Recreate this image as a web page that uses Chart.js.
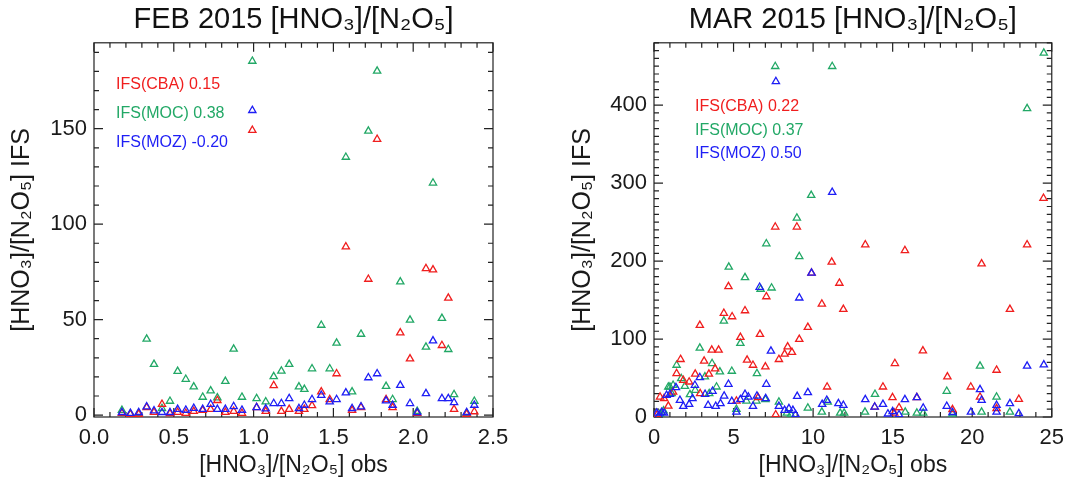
<!DOCTYPE html>
<html>
<head>
<meta charset="utf-8">
<title>HNO3/N2O5 IFS vs obs</title>
<script src="https://cdn.jsdelivr.net/npm/chart.js@4.4.1/dist/chart.umd.min.js"></script>
<style>
    body { margin: 0; background: #fff; }
    .panel { position: absolute; top: 0; width: 536px; height: 479px; }
</style>
</head>
<body>
<div class="panel" style="left:0"><canvas id="febChart"></canvas></div>
<div class="panel" style="left:536px"><canvas id="marChart"></canvas></div>
<script>
// ---- FEB 2015: observed ratio and the three model runs at the same points
const febObs = [0.175, 0.228, 0.280, 0.330, 0.376, 0.426, 0.476, 0.524, 0.575, 0.625,
    0.681, 0.731, 0.773, 0.823, 0.875, 0.927, 0.992, 1.019, 1.076, 1.126,
    1.174, 1.223, 1.284, 1.318, 1.366, 1.424, 1.477, 1.520, 1.578, 1.617,
    1.673, 1.719, 1.774, 1.830, 1.871, 1.919, 1.980, 2.025, 2.080, 2.124,
    2.180, 2.220, 2.256, 2.335, 2.383];
const febCBA = [1.0, 0.5, 0.5, 4.0, 1.5, 5.7, 0.8, 1.5, 1.0, 2.0,
    2.5, 3.0, 7.7, 1.5, 2.0, 1.0, 149.2, 4.0, 2.0, 15.5,
    2.0, 3.0, 2.0, 3.0, 5.0, 12.2, 8.2, 21.7, 88.2, 2.5,
    4.0, 71.2, 144.5, 8.2, 4.0, 43.1, 29.5, 1.0, 76.8, 76.1,
    36.5, 61.3, 3.0, 0.5, 1.8];
const febMOC = [2.5, 0.5, 0.8, 39.8, 26.6, 3.5, 7.3, 22.9, 18.8, 14.8,
    9.4, 12.7, 9.1, 17.7, 34.6, 9.4, 185.4, 8.7, 7.0, 20.2,
    23.1, 26.6, 14.8, 13.5, 24.3, 47.1, 24.3, 37.7, 135.1, 12.2,
    42.4, 148.8, 180.2, 15.1, 8.2, 69.8, 49.8, 2.0, 35.6, 121.6,
    50.7, 34.4, 10.8, 1.0, 7.3];
const febMOZ = [1.4, 0.9, 1.4, 4.4, 2.3, 1.4, 1.4, 3.0, 2.6, 3.6,
    3.0, 5.7, 3.0, 3.0, 4.5, 2.6, 159.6, 4.0, 3.3, 6.1,
    6.1, 8.7, 3.5, 5.2, 8.2, 10.4, 7.0, 8.2, 11.7, 3.5,
    4.4, 19.6, 21.7, 7.5, 5.2, 15.6, 6.1, 1.3, 11.3, 38.9,
    8.7, 8.7, 6.6, 1.4, 5.2];
const febCorr = ['0.15', '0.38', '-0.20'];

// ---- MAR 2015: [obs, IFS] pairs per model run
const marCBA = [[7.62, 243.8], [8.98, 243.8], [24.48, 280.6], [13.28, 221], [15.77, 213.6],
    [23.45, 221], [20.59, 196.5], [22.37, 138.2], [11.17, 198.7], [9.90, 184.6],
    [4.68, 167.3], [7.06, 154.4], [11.65, 171.7], [10.55, 145], [11.90, 138.2],
    [4.39, 133.1], [4.91, 128.7], [5.72, 136.4], [2.88, 117.6], [9.67, 115.1],
    [5.43, 102.2], [6.66, 106], [9.13, 99.6], [8.40, 90.1], [8.21, 80.7],
    [8.67, 82.9], [7.85, 73.9], [7.00, 64.4], [5.85, 73], [6.22, 66.5],
    [3.63, 85.8], [4.06, 85.8], [1.67, 73.9], [3.15, 71.7], [3.84, 61.8],
    [3.45, 55], [1.42, 55.8], [2.59, 55], [1.84, 47.2], [2.21, 45],
    [10.88, 38.6], [15.14, 68.7], [16.90, 84.9], [18.44, 51.5], [14.39, 38.6],
    [19.91, 38.6], [21.53, 60.1], [22.93, 22.8], [20.49, 25.7], [16.52, 24.9],
    [14.99, 24.9], [6.54, 24.9], [5.18, 20.6], [0.63, 23.7], [0.38, 25.7],
    [21.53, 10.8], [18.76, 9.5], [13.87, 12.9], [15.4, 12], [15.1, 5],
    [0.2, 3], [7.65, 3], [2.9, 30], [1.2, 32], [0.9, 14]];
const marMOC = [[24.50, 466.8], [7.62, 449.7], [11.20, 449.7], [23.45, 395.6], [9.88, 284.4],
    [8.98, 255.3], [7.06, 222.3], [9.13, 205.9], [4.70, 192.3], [5.72, 178.9],
    [7.39, 165.6], [6.70, 164], [4.39, 123.2], [5.43, 94.5], [6.47, 55.8],
    [2.88, 88.4], [1.42, 66.5], [3.65, 68.7], [4.14, 57.9], [4.89, 58.8],
    [1.71, 49.4], [1.94, 39.5], [1.00, 38.6], [1.20, 40.8], [3.93, 38.6],
    [3.20, 51.5], [20.49, 65.3], [18.40, 33.1], [21.53, 25.7], [13.89, 29.2],
    [10.92, 19.3], [9.67, 11.6], [7.85, 19.3], [8.35, 5.1], [7.00, 22.4],
    [6.43, 20.6], [5.81, 20.6], [3.47, 30.1], [2.59, 34.4], [2.26, 28.8],
    [0.90, 38.6], [1.11, 30.1], [0.38, 4], [0.60, 8], [5.18, 10],
    [10.55, 6.4], [11.70, 5], [11.95, 5], [13.26, 6.4], [15.79, 6.4],
    [16.52, 5], [16.92, 5], [18.76, 4], [20.59, 6.4], [22.37, 6.4], [8.6, 3]];
const marMOZ = [[7.66, 430.4], [11.20, 288.3], [9.90, 184.6], [6.64, 166.5], [9.13, 152.8],
    [7.35, 84.6], [2.88, 50.7], [2.57, 40.8], [4.68, 42.1], [7.06, 42.1],
    [23.45, 65.3], [24.50, 67], [20.49, 35.2], [20.59, 21.5], [22.37, 17.2],
    [21.53, 15.1], [18.40, 13.8], [16.52, 24.9], [13.28, 22.4], [13.87, 12.9],
    [14.39, 16.3], [15.77, 22.4], [16.92, 11.6], [9.67, 31.4], [9.00, 26.6],
    [10.57, 16.3], [10.86, 21.5], [11.59, 17.2], [11.90, 15.1], [7.85, 13.8],
    [8.21, 8.6], [8.48, 10.8], [8.73, 8.6], [7.02, 23.7], [6.47, 27],
    [5.72, 29.2], [5.93, 25.7], [5.43, 22.4], [4.89, 20.2], [6.22, 13.8],
    [5.18, 6.4], [4.41, 27], [4.18, 17.2], [3.88, 13.8], [3.40, 15.1],
    [3.21, 29.2], [3.68, 33.1], [2.42, 23.7], [2.21, 16.3], [1.84, 13.8],
    [1.63, 21.5], [1.38, 37.8], [1.00, 29.2], [0.79, 27.9], [0.17, 5],
    [0.48, 6], [0.63, 5], [0.30, 2], [19.92, 6.4], [21.53, 6.4],
    [22.93, 4.4], [18.76, 5.9], [14.7, 4], [15.0, 7], [15.4, 3], [8.9, 3]];
const marCorr = ['0.22', '0.37', '0.50'];

const modelNames = ['IFS(CBA)', 'IFS(MOC)', 'IFS(MOZ)'];
const modelColors = ['#f01e1e', '#22a866', '#1e1ef5'];
// blue on top, then red, green at the bottom
const modelOrder = [2, 3, 1];

const ratioLabel = '[HNO\u2083]/[N\u2082O\u2085]';

Chart.defaults.font.family = '"Liberation Sans", Arial, Helvetica, sans-serif';
Chart.defaults.color = '#1a1a1a';

// Box round the plot with IDL-style inward ticks on all four sides
const frameTicks = {
    id: 'frameTicks',
    beforeDatasetsDraw(chart, args, opts) {
        const { ctx, chartArea: a, scales: { x, y } } = chart;
        ctx.save();
        ctx.strokeStyle = '#222';
        ctx.lineWidth = 1.2;
        ctx.strokeRect(a.left, a.top, a.right - a.left, a.bottom - a.top);

        const steps = (scale, minor, major, draw) => {
            const first = Math.ceil(scale.min / minor - 1e-6);
            const last = Math.floor(scale.max / minor + 1e-6);
            for (let i = first; i <= last; i++) {
                const v = i * minor;
                const r = v / major;
                const isMajor = Math.abs(r - Math.round(r)) < 1e-6;
                draw(scale.getPixelForValue(v), isMajor ? 9 : 5);
            }
        };

        ctx.beginPath();
        steps(x, opts.xMinor, opts.xMajor, (px, len) => {
            ctx.moveTo(px, a.bottom); ctx.lineTo(px, a.bottom - len);
            ctx.moveTo(px, a.top); ctx.lineTo(px, a.top + len);
        });
        steps(y, opts.yMinor, opts.yMajor, (py, len) => {
            ctx.moveTo(a.left, py); ctx.lineTo(a.left + len, py);
            ctx.moveTo(a.right, py); ctx.lineTo(a.right - len, py);
        });
        ctx.stroke();
        ctx.restore();
    }
};

// Coloured correlation labels inside the plot
const corrText = {
    id: 'corrText',
    afterDatasetsDraw(chart, args, opts) {
        const { ctx, chartArea } = chart;
        ctx.save();
        ctx.font = '16px ' + Chart.defaults.font.family;
        ctx.textBaseline = 'middle';
        chart.data.datasets.forEach((ds, i) => {
            ctx.fillStyle = ds.borderColor;
            ctx.fillText(ds.label + ' ' + opts.values[i],
                chartArea.left + opts.dx, chartArea.top + opts.dy + i * opts.gap);
        });
        ctx.restore();
    }
};

function makeDatasets(seriesList) {
    return seriesList.map((points, i) => ({
        label: modelNames[i],
        data: points,
        order: modelOrder[i],
        borderColor: modelColors[i],
        backgroundColor: 'rgba(0,0,0,0)',
        pointStyle: 'triangle',
        pointRadius: 4.2,
        borderWidth: 1.3
    }));
}

function makePanel(canvasId, p) {
    const ctx = document.getElementById(canvasId).getContext('2d');
    return new Chart(ctx, {
        type: 'scatter',
        data: { datasets: makeDatasets(p.series) },
        options: {
            responsive: true,
            maintainAspectRatio: false,
            animation: false,
            events: [],
            layout: { padding: p.padding },
            plugins: {
                legend: { display: false },
                tooltip: { enabled: false },
                title: {
                    display: true,
                    text: p.title,
                    fullSize: false,
                    color: '#111',
                    font: { size: 29, weight: 'normal' },
                    padding: { top: 3, bottom: 5 }
                },
                frameTicks: p.frame,
                corrText: p.corr
            },
            scales: {
                x: {
                    type: 'linear',
                    min: p.xMin, max: p.xMax,
                    grid: { display: false, drawTicks: false },
                    border: { display: false },
                    ticks: {
                        stepSize: p.xStep, includeBounds: false, padding: 8,
                        maxRotation: 0, autoSkip: false,
                        font: { size: 22 },
                        callback: p.xFormat
                    },
                    title: {
                        display: true, text: ratioLabel + ' obs',
                        font: { size: 23 }, padding: { top: 0, bottom: 0 }
                    },
                    afterFit: s => { s.height = 62; }
                },
                y: {
                    type: 'linear',
                    min: p.yMin, max: p.yMax,
                    grid: { display: false, drawTicks: false },
                    border: { display: false },
                    ticks: {
                        stepSize: p.yStep, includeBounds: false, padding: 7,
                        autoSkip: false,
                        font: { size: 22 }
                    },
                    title: {
                        display: true, text: ratioLabel + ' IFS',
                        font: { size: 25 }, padding: { top: 7, bottom: 0 }
                    },
                    afterFit: s => { s.width = p.yWidth; }
                }
            }
        },
        plugins: [frameTicks, corrText]
    });
}

const toPairs = (xs, ys) => xs.map((x, i) => ({ x: x, y: ys[i] }));
const fromPairs = list => list.map(d => ({ x: d[0], y: d[1] }));

makePanel('febChart', {
    title: 'FEB 2015 ' + ratioLabel,
    series: [toPairs(febObs, febCBA), toPairs(febObs, febMOC), toPairs(febObs, febMOZ)],
    padding: { left: 0, right: 43, top: 0, bottom: 0 },
    yWidth: 94,
    xMin: 0, xMax: 2.5, xStep: 0.5, xFormat: v => v.toFixed(1),
    yMin: -1, yMax: 195, yStep: 50,
    frame: { xMinor: 0.1, xMajor: 0.5, yMinor: 10, yMajor: 50 },
    corr: { values: febCorr, dx: 22, dy: 42, gap: 29 }
});

makePanel('marChart', {
    title: 'MAR 2015 ' + ratioLabel,
    series: [fromPairs(marCBA), fromPairs(marMOC), fromPairs(marMOZ)],
    padding: { left: 25, right: 19, top: 0, bottom: 0 },
    yWidth: 93,
    xMin: 0, xMax: 25, xStep: 5, xFormat: v => String(v),
    yMin: 0, yMax: 480, yStep: 100,
    frame: { xMinor: 1, xMajor: 5, yMinor: 10, yMajor: 100 },
    corr: { values: marCorr, dx: 41, dy: 64, gap: 23.5 }
});
</script>
</body>
</html>
